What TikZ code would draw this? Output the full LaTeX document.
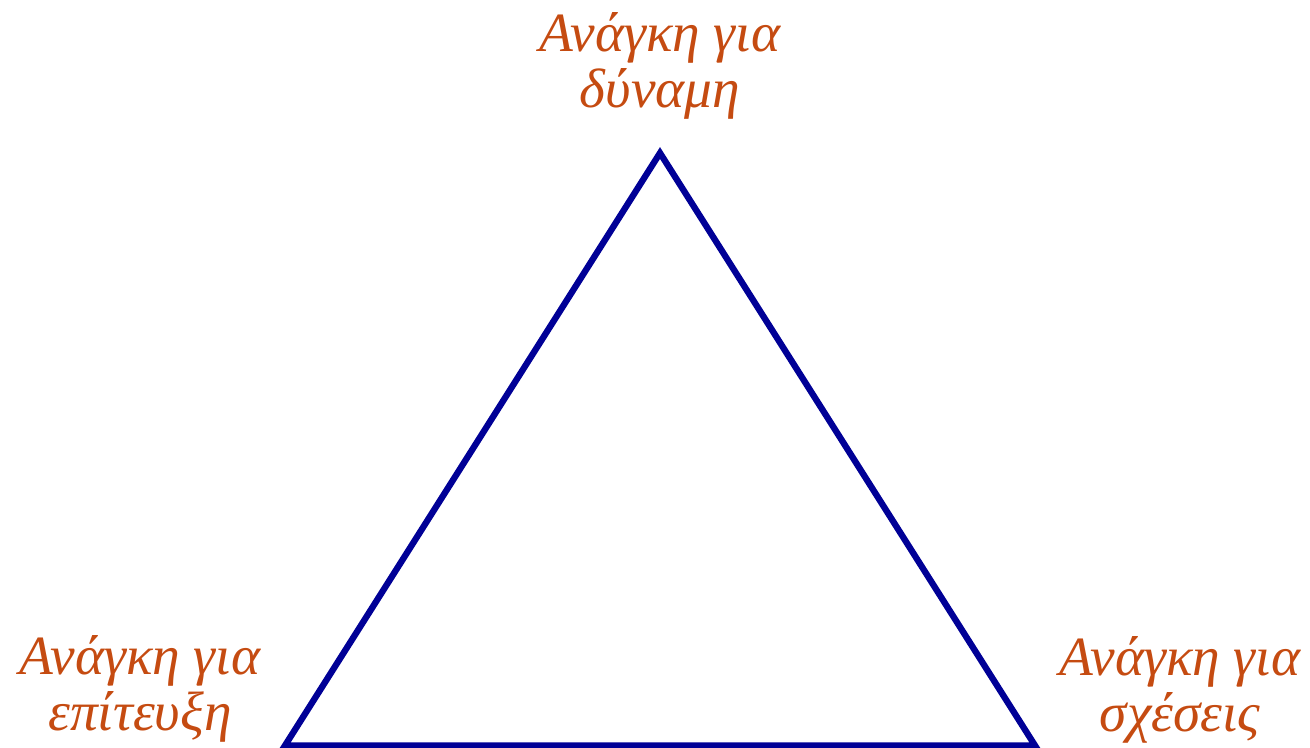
\documentclass[tikz,border=0pt]{standalone}
\usepackage{fontspec}
\setmainfont{Liberation Serif}
\definecolor{needorange}{RGB}{197,75,17}
\definecolor{sideblue}{RGB}{0,0,150}
\tikzset{
    need/.style={text=needorange, align=center, inner sep=0pt,
        font=\fontsize{31.5}{32}\selectfont\itshape},
    side/.style={draw=sideblue, line width=3.6pt, line join=miter}
}
\begin{document}
\begin{tikzpicture}
                \useasboundingbox (0,0) rectangle (26.2,14.94);

                \coordinate (top) at (13.2,11.88);
                \coordinate (left) at (5.7,0.03);
                \coordinate (right) at (20.7,0.03);

                \node[need] (power) at (13.2,13.62) {Ανάγκη για\\δύναμη};
                \node[need] (achievement) at (2.8,1.16) {Ανάγκη για\\επίτευξη};
                \node[need] (affiliation) at (23.6,1.14) {Ανάγκη για\\σχέσεις};

                \draw[side] (top) -- (left) -- (right) -- cycle;
            \end{tikzpicture}
\end{document}
